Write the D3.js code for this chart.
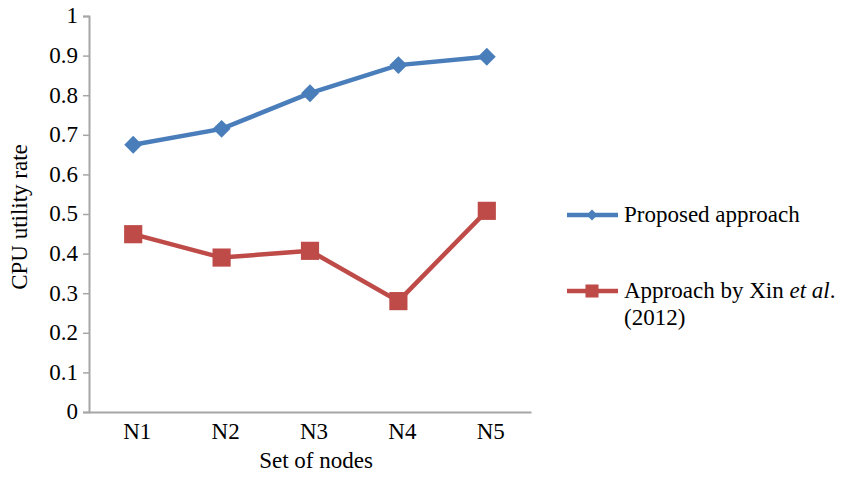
<!DOCTYPE html>
<html><head><meta charset="utf-8">
<script src="https://cdn.jsdelivr.net/npm/d3@7"></script>
<style>body{margin:0;background:#fff}svg{display:block}text{font-family:"Liberation Serif","Times New Roman",serif;fill:#000}</style>
</head><body><svg id="c" width="853" height="477"></svg>
<script>
const categories = ["N1","N2","N3","N4","N5"];
const proposed = [0.675,0.715,0.805,0.876,0.897];
const xin = [0.449,0.39,0.407,0.28,0.508];
const yTicks = [0,0.1,0.2,0.3,0.4,0.5,0.6,0.7,0.8,0.9,1];
const yTickLabels = ["0","0.1","0.2","0.3","0.4","0.5","0.6","0.7","0.8","0.9","1"];
const seriesNames = ["Proposed approach","Approach by Xin et al. (2012)"];

const svg = d3.select("#c");
const L=89, R=531, T=16, B=412;
const FS = "23px";
const x = d3.scaleBand().domain(categories).range([L,R]);
const y = d3.scaleLinear().domain([0,1]).range([B,T]);
const axisCol = "#a6a6a6";

const ya = svg.append("g").attr("transform",`translate(${L},0)`)
  .call(d3.axisLeft(y).tickValues(yTicks).tickFormat((d,i)=>yTickLabels[i]).tickSizeOuter(0).tickSize(6).tickPadding(5));
ya.select(".domain").attr("stroke",axisCol).attr("stroke-width",2);
ya.selectAll(".tick line").attr("stroke",axisCol).attr("stroke-width",1.5);
ya.selectAll("text").style("font-size",FS).attr("font-family","Liberation Serif").attr("fill","#000").attr("dy","0.3em");

const xa = svg.append("g").attr("transform",`translate(0,${B})`)
  .call(d3.axisBottom(x).tickSize(0).tickSizeOuter(0).tickPadding(11));
xa.select(".domain").attr("stroke",axisCol).attr("stroke-width",2);
xa.selectAll("text").style("font-size",FS).attr("font-family","Liberation Serif").attr("fill","#000").attr("dx","4");

svg.append("text").attr("transform","translate(27,217) rotate(-90)").attr("text-anchor","middle").style("font-size",FS).text("CPU utility rate");
svg.append("text").attr("x",316).attr("y",468).attr("text-anchor","middle").style("font-size",FS).text("Set of nodes");

const line = d3.line().x((d,i)=>x(categories[i])+x.bandwidth()/2).y(d=>y(d));
const blue="#4a7ebb", red="#be4b48";
svg.append("path").datum(proposed).attr("d",line).attr("fill","none").attr("stroke",blue).attr("stroke-width",4.5);
svg.append("path").datum(xin).attr("d",line).attr("fill","none").attr("stroke",red).attr("stroke-width",4.5);
svg.selectAll(".pm").data(proposed).join("path")
  .attr("d",d3.symbol().type(d3.symbolSquare).size(160)())
  .attr("transform",(d,i)=>`translate(${x(categories[i])+x.bandwidth()/2},${y(d)}) rotate(45)`)
  .attr("fill",blue);
svg.selectAll(".rm").data(xin).join("path")
  .attr("d",d3.symbol().type(d3.symbolSquare).size(330)())
  .attr("transform",(d,i)=>`translate(${x(categories[i])+x.bandwidth()/2},${y(d)})`)
  .attr("fill",red);

// legend
const lg = svg.append("g");
lg.append("line").attr("x1",567).attr("x2",618).attr("y1",215).attr("y2",215).attr("stroke",blue).attr("stroke-width",4.5);
lg.append("path").attr("d",d3.symbol().type(d3.symbolSquare).size(60)()).attr("transform","translate(592,215) rotate(45)").attr("fill",blue);
lg.append("text").attr("x",624).attr("y",222).style("font-size",FS).text(seriesNames[0]);
lg.append("line").attr("x1",567).attr("x2",618).attr("y1",291).attr("y2",291).attr("stroke",red).attr("stroke-width",4.5);
lg.append("path").attr("d",d3.symbol().type(d3.symbolSquare).size(170)()).attr("transform","translate(592,291)").attr("fill",red);
const t2 = lg.append("text").attr("x",624).attr("y",298).style("font-size",FS);
t2.append("tspan").text("Approach by Xin ");
t2.append("tspan").attr("font-style","italic").text("et al");
t2.append("tspan").text(".");
lg.append("text").attr("x",624).attr("y",325).style("font-size",FS).text("(2012)");
</script></body></html>
